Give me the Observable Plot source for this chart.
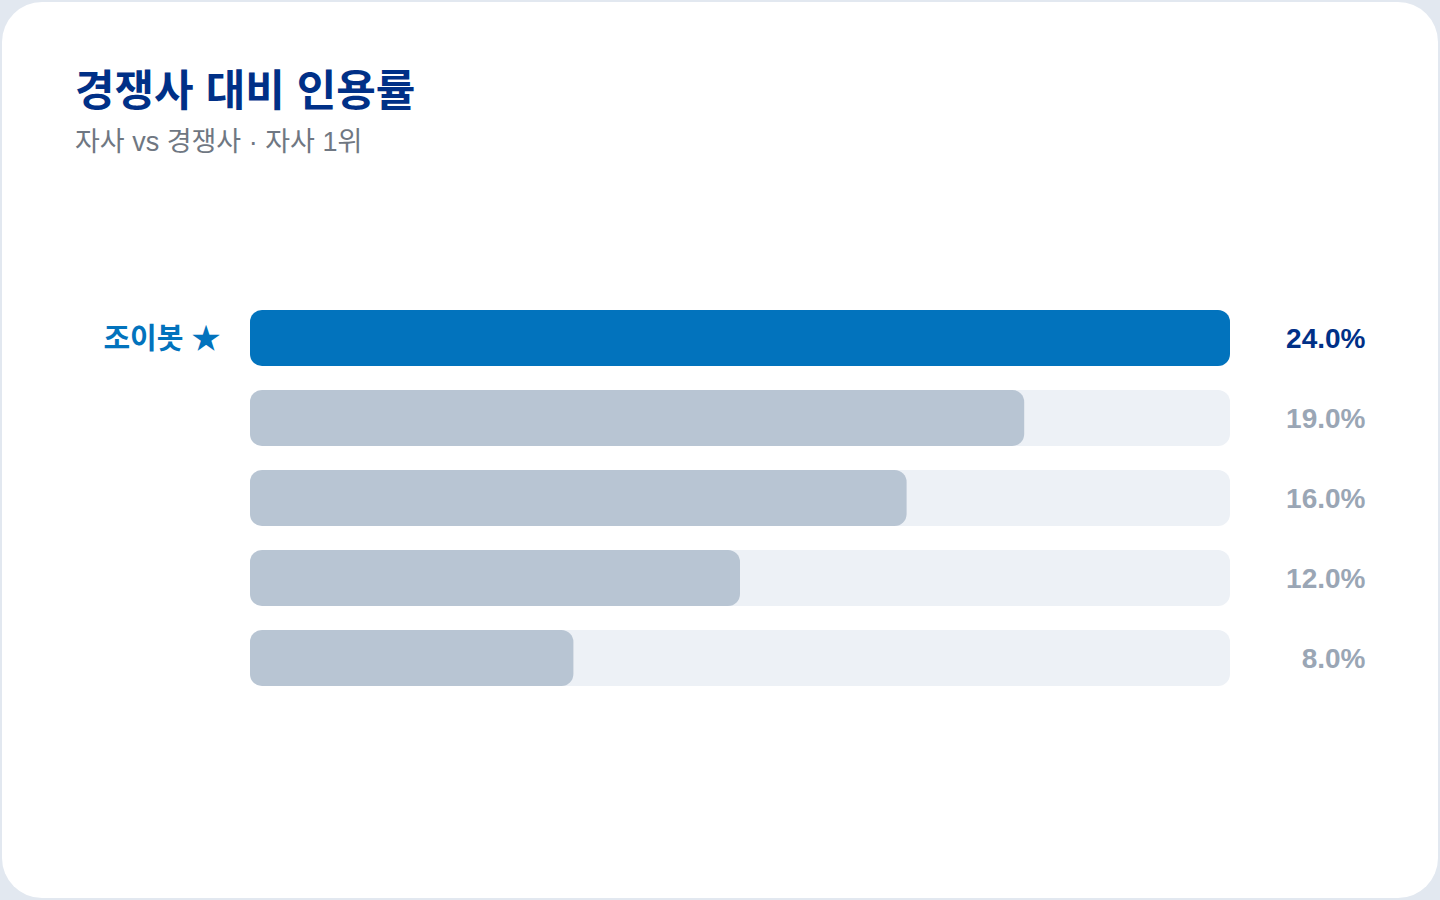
<!DOCTYPE html>
<html>
<head>
<meta charset="utf-8">
<script src="https://cdn.jsdelivr.net/npm/d3@7"></script>
<script src="https://cdn.jsdelivr.net/npm/@observablehq/plot@0.6"></script>
<style>
  html, body { margin: 0; padding: 0; }
  body { width: 1440px; height: 900px; background: #e2e8f0; position: relative; overflow: hidden;
         font-family: "Liberation Sans", Arial, "Noto Sans CJK KR", sans-serif; }
  .card { position: absolute; left: 2px; top: 2px; width: 1436px; height: 896px; background: #ffffff; border-radius: 40px; }
  .title { position: absolute; left: 75px; top: 66px; font-size: 43px; line-height: 50px; font-weight: 700; color: #003087; white-space: nowrap; }
  .subtitle { position: absolute; left: 75px; top: 126px; font-size: 27px; line-height: 32px; color: #6f7782; white-space: nowrap; }
  #chart { position: absolute; left: 0; top: 200px; }
</style>
</head>
<body>
<div class="card"></div>
<div class="title">경쟁사 대비 인용률</div>
<div class="subtitle">자사 vs 경쟁사 · 자사 1위</div>
<div id="chart"></div>
<script>
// Data
const ids = ["자사", "경쟁사 A", "경쟁사 B", "경쟁사 C", "경쟁사 D"];
const labels = ["조이봇 ★", "", "", "", ""];
const values = [24.0, 19.0, 16.0, 12.0, 8.0];
const isOwn = [true, false, false, false, false];
const maxValue = 24;

// bar length = share of the leader, rounded to a whole percent
const rows = ids.map((id, i) => ({
  id, label: labels[i], value: values[i], own: isOwn[i],
  pct: Math.round(values[i] / maxValue * 100)
}));

const chart = Plot.plot({
  width: 1440,
  height: 600,
  marginLeft: 250,
  marginRight: 210,
  marginTop: 98,
  marginBottom: 102,
  style: {fontFamily: '"Liberation Sans", Arial, "Noto Sans CJK KR", sans-serif', background: "transparent"},
  x: {domain: [0, 100], axis: null},
  y: {domain: ids, axis: null, paddingInner: 0.3, paddingOuter: 0.15},
  marks: [
    Plot.barX(rows, {y: "id", x: 100, fill: "#edf1f6", rx: 12}),
    Plot.barX(rows, {y: "id", x: "pct", fill: d => d.own ? "#0273bd" : "#b8c5d3", rx: 12}),
    Plot.text(rows, {y: "id", x: 0, text: "label", dx: -30, dy: 1, textAnchor: "end",
      fill: "#0273bd", fontSize: 29, fontWeight: 700}),
    Plot.text(rows, {y: "id", x: 100, text: d => d.value.toFixed(1) + "%", dx: 135, dy: 1, textAnchor: "end",
      fill: d => d.own ? "#003087" : "#9aa6b5", fontSize: 28, fontWeight: 700})
  ]
});
document.getElementById("chart").appendChild(chart);
</script>
</body>
</html>
